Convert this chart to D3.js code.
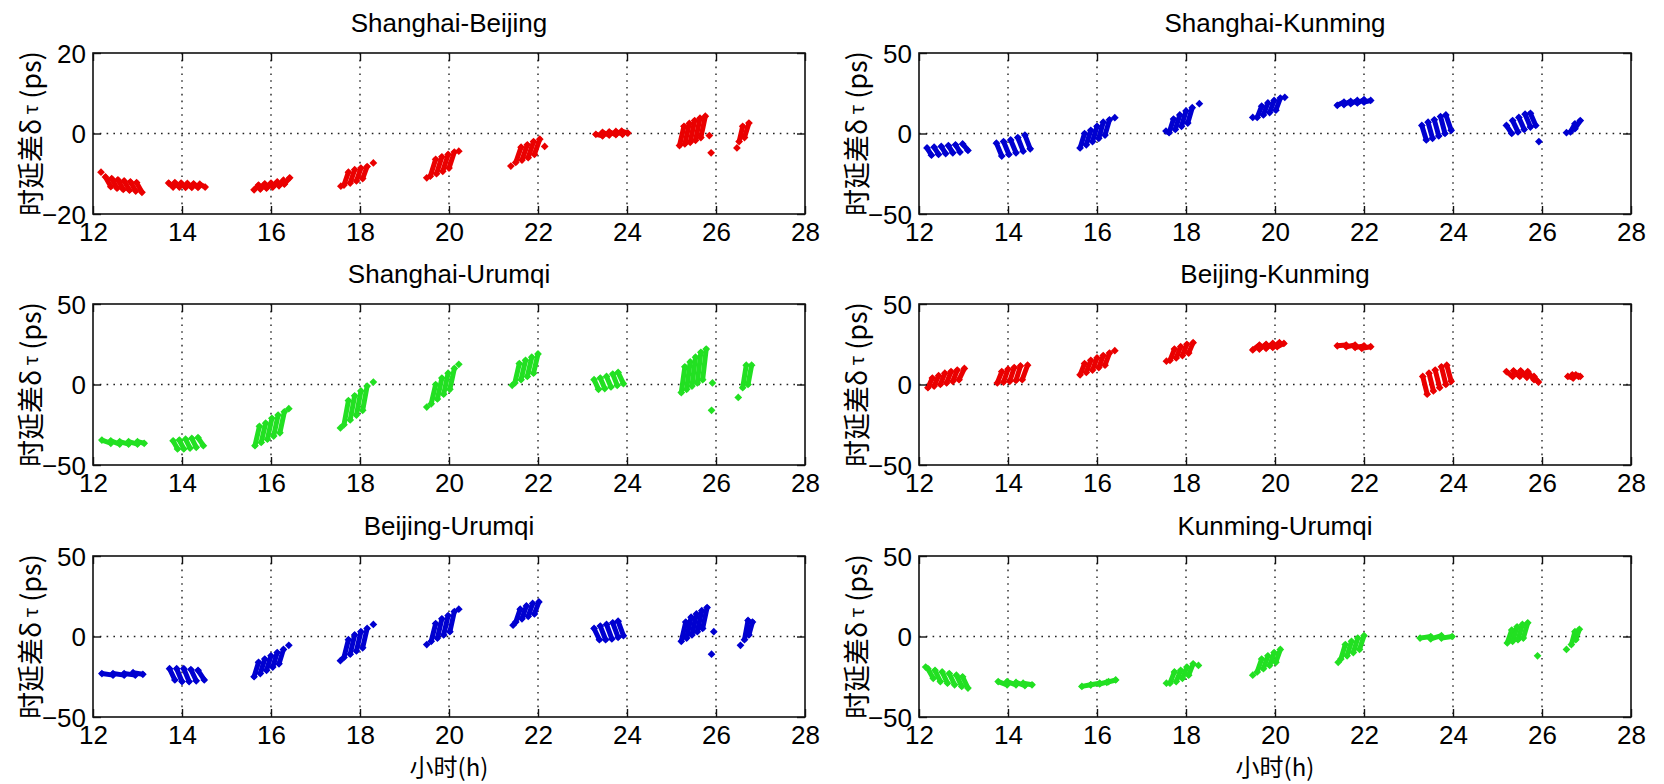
<!DOCTYPE html>
<html>
<head>
<meta charset="utf-8">
<script src="https://cdn.jsdelivr.net/npm/d3@7/dist/d3.min.js"></script>
<style>
  html, body { margin: 0; padding: 0; background: #fff; }
  svg { display: block; }
  text { fill: #000; }
</style>
</head>
<body>
<svg id="chart" width="1664" height="784"></svg>
<script>
// Hour axis ticks (shared by every panel)
const hourTicks = [12, 14, 16, 18, 20, 22, 24, 26, 28];
const delayTicksNarrow = [-20, 0, 20];
const delayTicksWide = [-50, 0, 50];

const titles = ["Shanghai-Beijing", "Shanghai-Kunming", "Shanghai-Urumqi",
                "Beijing-Kunming", "Beijing-Urumqi", "Kunming-Urumqi"];
const colours = ["red", "blue", "green", "red", "blue", "green"];

// Each scan: [start hour, delay at start, end hour, delay at end] in ps
const scansShanghaiBeijing = [
  [12.28,-10.8,12.40,-13.2],[12.42,-11.2,12.54,-13.6],[12.56,-11.5,12.68,-13.9],[12.70,-11.8,12.82,-14.1],[12.84,-12.0,12.96,-14.3],[12.98,-12.2,13.10,-14.6],
  [13.70,-12.3,13.80,-13.3],[13.84,-12.2,13.94,-13.3],[13.98,-12.3,14.08,-13.4],[14.12,-12.4,14.22,-13.4],[14.26,-12.5,14.36,-13.4],[14.40,-12.6,14.52,-13.3],
  [15.62,-14.0,15.72,-12.8],[15.76,-13.8,15.86,-12.5],[15.90,-13.6,16.00,-12.3],[16.04,-13.3,16.14,-12.0],[16.18,-13.0,16.28,-11.6],[16.30,-12.6,16.42,-11.0],
  [17.64,-12.8,17.74,-9.6],[17.78,-12.3,17.88,-9.0],[17.92,-11.8,18.02,-8.6],[18.06,-11.2,18.16,-8.2],
  [19.58,-10.6,19.70,-6.4],[19.72,-10.0,19.84,-5.8],[19.86,-9.4,19.98,-5.2],[20.00,-8.6,20.12,-4.6],
  [21.50,-7.2,21.62,-3.4],[21.64,-6.6,21.76,-2.8],[21.78,-6.0,21.90,-2.0],[21.92,-5.2,22.04,-1.4],
  [23.30,-0.2,23.45,-0.6],[23.45,0.3,23.60,-0.4],[23.60,0.4,23.75,-0.3],[23.75,0.5,23.90,-0.2],[23.88,0.6,24.02,0.1],
  [25.18,-3.0,25.28,1.8],[25.30,-2.6,25.40,2.5],[25.42,-2.2,25.52,3.2],[25.54,-1.7,25.64,3.8],[25.66,-1.0,25.76,4.3],
  [26.52,-2.0,26.60,1.8],[26.64,-1.0,26.74,2.6]
];
const pointsShanghaiBeijing = [[12.18,-9.6],[17.57,-13.1],[18.30,-7.3],[19.50,-11.0],[20.22,-4.4],[21.39,-8.1],[22.15,-3.2],[25.85,-0.5],[25.89,-4.8],[26.47,-3.6]];

const scansShanghaiKunming = [
  [12.18,-9,12.28,-13.5],[12.34,-8.5,12.44,-13],[12.50,-8,12.60,-12.5],[12.66,-7.5,12.76,-12],[12.82,-7,12.92,-11.5],[12.98,-6.5,13.10,-10.5],
  [13.74,-6,13.86,-14],[13.90,-5,14.02,-13],[14.06,-4,14.18,-12],[14.22,-2.5,14.34,-11],[14.38,-1,14.50,-9.5],
  [15.62,-9,15.72,0],[15.76,-7,15.86,2],[15.90,-5,16.00,4.5],[16.04,-3,16.14,7],[16.18,-1,16.28,8.5],
  [17.62,0.5,17.72,9],[17.76,2.5,17.86,11.5],[17.90,4.5,18.00,14],[18.04,6.5,18.14,16],
  [19.60,10,19.70,17],[19.74,11.5,19.84,19],[19.88,13,19.98,20.5],[20.02,14.5,20.12,22],
  [21.40,17.5,21.55,19.5],[21.55,18,21.70,20],[21.70,18.5,21.85,20.5],[21.85,19,22.00,21],[22.00,19.5,22.15,20.5],
  [23.30,5,23.40,-4],[23.44,7,23.54,-3],[23.58,8.5,23.68,-1.5],[23.72,10.5,23.82,0],[23.84,11.5,23.96,2],
  [25.20,5,25.32,0],[25.34,8,25.46,1],[25.48,10,25.60,2.5],[25.62,12,25.74,4],[25.74,12.5,25.86,5],
  [26.64,1,26.74,6],[26.74,3,26.86,8]
];
const pointsShanghaiKunming = [[16.40,9.8],[17.55,1.5],[18.30,18.5],[19.50,10],[20.22,22.5],[25.93,-5],[26.55,0.5]];

const scansShanghaiUrumqi = [
  [12.20,-34.5,12.40,-36.5],[12.40,-35,12.60,-37],[12.60,-35.5,12.80,-37],[12.80,-35.5,13.00,-37],[13.00,-35.5,13.15,-36.5],
  [13.80,-35,13.90,-40],[13.94,-34.5,14.04,-40],[14.08,-34,14.18,-39.5],[14.22,-33.5,14.32,-39],[14.36,-33,14.48,-38],
  [15.64,-38,15.74,-26],[15.78,-36,15.88,-24],[15.92,-34,16.02,-21],[16.06,-32,16.16,-19],[16.20,-30,16.30,-17],
  [17.64,-25,17.74,-10],[17.78,-22,17.88,-7],[17.92,-19,18.02,-4],[18.06,-16,18.16,-1],
  [19.60,-12,19.70,0],[19.74,-9,19.84,4],[19.88,-6,19.98,7],[20.02,-3,20.12,10],
  [21.48,1,21.58,13],[21.62,3,21.72,15],[21.76,5,21.86,17],[21.90,7,22.00,19],
  [23.26,3,23.36,-3],[23.40,4,23.50,-2.5],[23.54,5,23.64,-1.5],[23.68,6.5,23.78,-0.5],[23.80,7.5,23.92,0.5],
  [25.22,-5,25.30,11],[25.34,-3,25.42,14],[25.46,-1,25.54,17],[25.58,1,25.66,20],[25.70,3,25.78,22],
  [26.60,-2,26.68,12],[26.72,0,26.80,12]
];
const pointsShanghaiUrumqi = [[16.40,-15],[17.56,-27],[18.30,1.5],[19.50,-14],[20.22,12.5],[21.42,-0.5],[25.90,-16],[25.92,1],[26.50,-8]];

const scansBeijingKunming = [
  [12.20,-2,12.30,4],[12.34,-1,12.44,5.5],[12.48,0,12.58,7],[12.62,1,12.72,8],[12.76,2,12.86,9],[12.90,3,13.02,10],
  [13.76,1,13.86,8],[13.90,1.5,14.00,9.5],[14.04,2,14.14,10.5],[14.18,2.5,14.28,11.5],[14.32,3,14.44,12],
  [15.62,6,15.72,13],[15.76,7.5,15.86,15],[15.90,9,16.00,16.5],[16.04,10.5,16.14,18],[16.18,12,16.28,19.5],
  [17.64,15,17.74,22],[17.78,16.5,17.88,23.5],[17.92,18,18.02,25],[18.06,19.5,18.16,26],
  [19.50,21.5,19.65,24.5],[19.65,22,19.80,25],[19.80,22.5,19.95,25.5],[19.95,23,20.10,26],[20.05,23.5,20.20,25.5],
  [21.40,24,21.60,24.5],[21.60,23.5,21.80,24.5],[21.80,23,22.00,24],[21.95,22.5,22.15,23.5],
  [23.32,5,23.42,-6],[23.46,7,23.56,-4],[23.60,9,23.70,-2],[23.74,11,23.84,0],[23.86,12,23.96,2],
  [25.20,8,25.34,5],[25.36,8.5,25.50,5],[25.52,8.5,25.66,4.5],[25.68,8,25.82,3],[25.82,5,25.92,1.5],
  [26.58,5,26.70,4],[26.68,6,26.82,5],[26.76,6,26.86,5]
];
const pointsBeijingKunming = [[16.40,21],[17.56,14.5]];

const scansBeijingUrumqi = [
  [12.20,-23,12.45,-24],[12.45,-23,12.70,-24],[12.70,-23,12.95,-24],[12.90,-22.5,13.12,-23.5],
  [13.72,-20,13.84,-27],[13.88,-20,14.00,-28],[14.04,-20,14.16,-28],[14.20,-20.5,14.32,-27.5],[14.36,-21,14.50,-27],
  [15.62,-25,15.72,-16],[15.76,-23,15.86,-14],[15.90,-21,16.00,-12],[16.04,-19,16.14,-10],[16.18,-17,16.28,-8],
  [17.64,-13,17.74,-2],[17.78,-11,17.88,1],[17.92,-9,18.02,3],[18.06,-7,18.16,5],
  [19.60,-3,19.70,8],[19.74,-1,19.84,11],[19.88,1,19.98,13],[20.02,3,20.12,15.5],
  [21.50,9,21.60,17],[21.64,11,21.74,19],[21.78,12.5,21.88,20.5],[21.92,14,22.02,21.5],
  [23.26,5,23.38,-2],[23.40,6.5,23.52,-2],[23.54,7.5,23.66,-1.5],[23.68,8.5,23.80,-0.5],[23.80,9.5,23.92,0.5],
  [25.22,-3,25.32,9],[25.34,-1,25.44,12],[25.46,1,25.56,14],[25.58,3,25.68,16],[25.70,5,25.80,18],
  [26.64,-2,26.72,10],[26.74,1,26.82,9]
];
const pointsBeijingUrumqi = [[16.40,-5.5],[17.56,-15],[18.30,7.5],[19.50,-5],[20.22,17],[21.44,7],[25.90,-11],[25.95,3],[26.55,-5.5]];

const scansKunmingUrumqi = [
  [12.20,-20,12.32,-26],[12.36,-21,12.48,-28],[12.52,-22,12.64,-29],[12.68,-23,12.80,-30],[12.84,-24,12.96,-31],[12.98,-25,13.10,-32],
  [13.78,-28,13.98,-30],[13.98,-28,14.18,-30],[14.18,-28.5,14.38,-30.5],[14.34,-29,14.54,-30],
  [15.66,-31,15.86,-30],[15.86,-30,16.06,-29],[16.06,-29.5,16.26,-28],[16.22,-28.5,16.42,-27],
  [17.64,-29,17.74,-22],[17.78,-28,17.88,-21],[17.92,-26,18.02,-19],[18.06,-24,18.16,-17],
  [19.60,-22,19.70,-14],[19.74,-20,19.84,-12],[19.88,-18,19.98,-10],[20.02,-16,20.12,-8],
  [21.48,-14,21.58,-5],[21.62,-12,21.72,-3],[21.76,-10,21.86,-1],[21.90,-8,22.00,0.5],
  [23.26,-1,23.50,0],[23.50,-1.5,23.74,0.5],[23.74,-1,23.98,0],
  [25.22,-4,25.32,4],[25.34,-3,25.44,6],[25.46,-2,25.56,7.5],[25.58,-1,25.68,8.5],
  [26.66,-5,26.74,3],[26.76,-2,26.84,4.5]
];
const pointsKunmingUrumqi = [[12.15,-19],[17.56,-29],[18.28,-18],[19.50,-24],[21.42,-16],[25.90,-12],[26.55,-8]];

const scanSets = [scansShanghaiBeijing, scansShanghaiKunming, scansShanghaiUrumqi,
                  scansBeijingKunming, scansBeijingUrumqi, scansKunmingUrumqi];
const pointSets = [pointsShanghaiBeijing, pointsShanghaiKunming, pointsShanghaiUrumqi,
                   pointsBeijingKunming, pointsBeijingUrumqi, pointsKunmingUrumqi];
const delayTickSets = [delayTicksNarrow, delayTicksWide, delayTicksWide,
                       delayTicksWide, delayTicksWide, delayTicksWide];

// Page layout of the 3 x 2 grid
const colLeft = [93, 919];
const rowTop = [53, 304, 556];
const plotW = 712, plotH = 161;
const tickLen = 8;
const latinFont = "'Liberation Sans', Arial, Helvetica, sans-serif";
const cjkFont = "'Noto Sans CJK SC', 'Liberation Sans', sans-serif";
const markColour = { red: "#ea0000", blue: "#0000d0", green: "#22e022" };

const svg = d3.select("#chart");
svg.append("rect").attr("width", 1664).attr("height", 784).attr("fill", "#fff");

const diamond = d3.symbol().type(d3.symbolSquare).size(30);

titles.forEach((title, i) => {
  const col = i % 2, row = Math.floor(i / 2);
  const ticksY = delayTickSets[i];
  const x = d3.scaleLinear().domain([hourTicks[0], hourTicks[hourTicks.length - 1]]).range([0, plotW]);
  const y = d3.scaleLinear().domain([ticksY[0], ticksY[ticksY.length - 1]]).range([plotH, 0]);
  const g = svg.append("g").attr("transform", `translate(${colLeft[col]},${rowTop[row]})`);
  const colour = markColour[colours[i]];

  // dotted grid at interior ticks
  g.append("g").selectAll("line").data(hourTicks.slice(1, -1)).join("line")
    .attr("x1", d => x(d)).attr("x2", d => x(d)).attr("y1", 0).attr("y2", plotH)
    .attr("stroke", "#222").attr("stroke-width", 1.4).attr("stroke-dasharray", "1.6,5.2");
  g.append("g").selectAll("line").data(ticksY.slice(1, -1)).join("line")
    .attr("y1", d => y(d)).attr("y2", d => y(d)).attr("x1", 0).attr("x2", plotW)
    .attr("stroke", "#222").attr("stroke-width", 1.4).attr("stroke-dasharray", "1.6,5.2");

  // scans drawn as segments with diamond ends
  const marks = g.append("g");
  marks.selectAll("line").data(scanSets[i]).join("line")
    .attr("x1", d => x(d[0])).attr("y1", d => y(d[1]))
    .attr("x2", d => x(d[2])).attr("y2", d => y(d[3]))
    .attr("stroke", colour).attr("stroke-width", 5).attr("stroke-linecap", "round");
  const ends = scanSets[i].flatMap(d => [[d[0], d[1]], [d[2], d[3]]]).concat(pointSets[i]);
  marks.selectAll("path").data(ends).join("path")
    .attr("d", diamond)
    .attr("transform", d => `translate(${x(d[0])},${y(d[1])}) rotate(45)`)
    .attr("fill", colour);

  // axes with inward ticks on all four sides
  const bottom = g.append("g").attr("transform", `translate(0,${plotH})`)
    .call(d3.axisBottom(x).tickValues(hourTicks).tickSize(-tickLen).tickPadding(9).tickFormat(d3.format("d")));
  const left = g.append("g")
    .call(d3.axisLeft(y).tickValues(ticksY).tickSize(-tickLen).tickPadding(7).tickFormat(d3.format("d")));
  const top = g.append("g")
    .call(d3.axisTop(x).tickValues(hourTicks).tickSize(-tickLen).tickFormat(""));
  const right = g.append("g").attr("transform", `translate(${plotW},0)`)
    .call(d3.axisRight(y).tickValues(ticksY).tickSize(-tickLen).tickFormat(""));
  [bottom, left, top, right].forEach(a => {
    a.select(".domain").remove();
    a.selectAll(".tick line").attr("stroke", "#111").attr("stroke-width", 1.4);
    a.selectAll("text").attr("font-family", latinFont).attr("font-size", 26).attr("fill", "#000");
  });
  left.selectAll("text").attr("dy", "0.36em");

  g.append("rect").attr("width", plotW).attr("height", plotH)
    .attr("fill", "none").attr("stroke", "#111").attr("stroke-width", 1.6);

  // panel title
  g.append("text").attr("x", plotW / 2).attr("y", -21)
    .attr("text-anchor", "middle").attr("font-family", latinFont).attr("font-size", 26)
    .text(title);

  // vertical axis label
  const yl = g.append("text")
    .attr("transform", `translate(-64,${plotH / 2}) rotate(-90)`)
    .attr("text-anchor", "middle").attr("dominant-baseline", "central")
    .attr("font-family", cjkFont).attr("font-size", 27);
  yl.append("tspan").text("时延差δ");
  yl.append("tspan").attr("font-size", 19).text(" τ");
  yl.append("tspan").text(" (ps)");

  // horizontal axis label on the bottom row
  if (row === 2) {
    g.append("text").attr("x", plotW / 2).attr("y", plotH + 59)
      .attr("text-anchor", "middle").attr("font-family", cjkFont).attr("font-size", 24)
      .text("小时(h)");
  }
});
</script>
</body>
</html>
